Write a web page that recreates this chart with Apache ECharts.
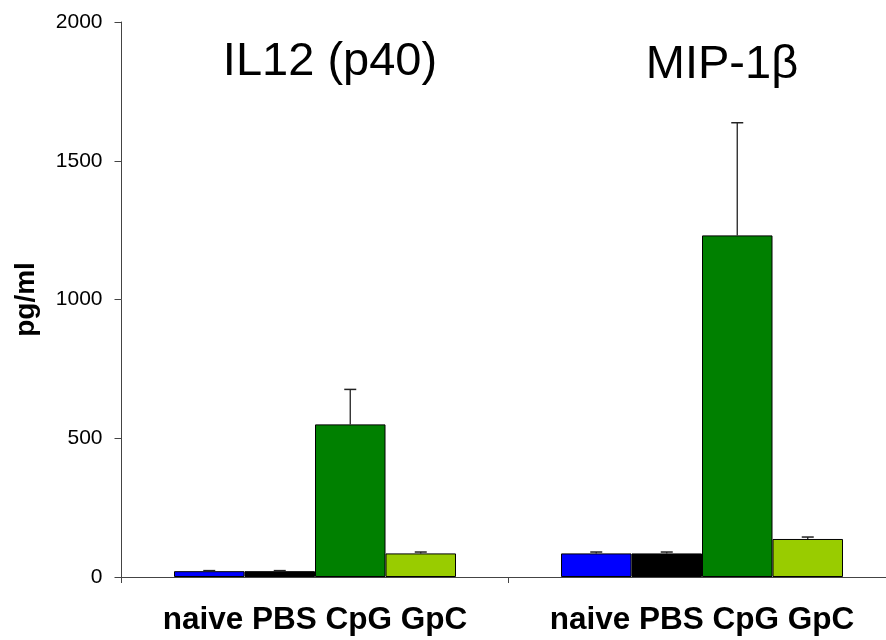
<!DOCTYPE html>
<html><head><meta charset="utf-8">
<script src="https://cdn.jsdelivr.net/npm/echarts@6/dist/echarts.min.js"></script>
<style>html,body{margin:0;padding:0;background:#fff;overflow:hidden}#c{width:900px;height:640px}</style>
</head><body><div id="c"></div>
<script>
const categories = ['naive PBS CpG GpC', 'naive PBS CpG GpC'];
const panelTitles = ['IL12 (p40)', 'MIP-1β'];
const seriesNames = ['naive', 'PBS', 'CpG', 'GpC'];
const naive = [21, 85];
const pbs = [21, 85];
const cpg = [550, 1231];
const gpc = [85, 137];
const naiveErr = [23, 90];
const pbsErr = [23, 90];
const cpgErr = [676, 1637];
const gpcErr = [90, 144];
const yTicks = [0, 500, 1000, 1500, 2000];

const colors = ['#0000FF', '#000000', '#008000', '#99CC00'];
const values = [naive, pbs, cpg, gpc];
const errs = [naiveErr, pbsErr, cpgErr, gpcErr];
const BW = 70.5;

const chart = echarts.init(document.getElementById('c'));
const series = values.map((v, i) => ({
  name: seriesNames[i], type: 'bar', data: v, barWidth: BW, barGap: '0%',
  itemStyle: { color: colors[i], borderColor: '#000', borderWidth: 1 },
  z: 2
}));
const errData = [];
errs.forEach((e, s) => e.forEach((top, c) => errData.push([c, values[s][c], top, s])));
series.push({
  type: 'custom', z: 3,
  data: errData,
  renderItem: function (params, api) {
    const c = api.value(0), base = api.value(1), top = api.value(2), s = api.value(3);
    const p0 = api.coord([c, base]);
    const p1 = api.coord([c, top]);
    const x = p0[0] + (s - 1.5) * BW;
    return { type: 'group', children: [
      { type: 'line', shape: { x1: x, y1: p0[1], x2: x, y2: p1[1] }, style: { stroke: '#222', lineWidth: 1.3 } },
      { type: 'line', shape: { x1: x - 6, y1: p1[1], x2: x + 6, y2: p1[1] }, style: { stroke: '#222', lineWidth: 1.5 } }
    ]};
  }
});

const titleStyle = { fontFamily: 'Liberation Sans, Arial', fontSize: 47, fontWeight: 'normal', color: '#000' };
chart.setOption({
  animation: false,
  backgroundColor: '#fff',
  title: [
    { text: panelTitles[0], left: 325, top: 34, textAlign: 'center', textStyle: titleStyle },
    { text: panelTitles[1], left: 717, top: 37, textAlign: 'center', textStyle: titleStyle }
  ],
  grid: { left: 121.5, right: 4.5, top: 22, bottom: 63, containLabel: false },
  xAxis: {
    type: 'category', data: categories,
    axisLine: { lineStyle: { color: '#444', width: 1 } },
    axisTick: { show: true, interval: 0, length: 6, alignWithLabel: false, lineStyle: { color: '#444' } },
    axisLabel: { interval: 0, hideOverlap: false, margin: 27, fontFamily: 'Liberation Sans, Arial', fontSize: 31.5, fontWeight: 'bold', color: '#000' }
  },
  yAxis: {
    type: 'value', min: yTicks[0], max: yTicks[yTicks.length - 1], interval: 500,
    name: 'pg/ml', nameLocation: 'middle', nameGap: 81, nameRotate: 90,
    nameTextStyle: { fontFamily: 'Liberation Sans, Arial', fontSize: 28, fontWeight: 'bold', color: '#000' },
    axisLine: { show: true, lineStyle: { color: '#444', width: 1 } },
    axisTick: { show: true, length: 7, lineStyle: { color: '#444' } },
    splitLine: { show: false },
    axisLabel: { margin: 19, fontFamily: 'Liberation Sans, Arial', fontSize: 21, color: '#000',
      formatter: function (v) { return String(v); } }
  },
  series: series
});
</script>
</body></html>
